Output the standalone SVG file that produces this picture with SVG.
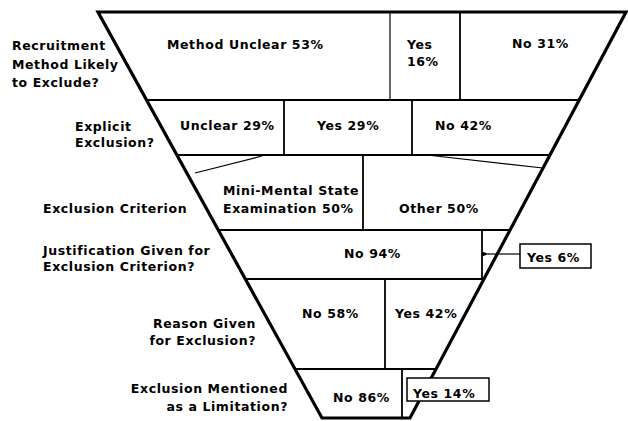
<svg xmlns="http://www.w3.org/2000/svg" width="628" height="421" viewBox="0 0 628 421">
<style>
text{font-family:"DejaVu Sans","Liberation Sans",Arial,sans-serif;font-weight:bold;font-size:12.5px;letter-spacing:0.6px;fill:#000}
.end{text-anchor:end}
.outline{fill:none;stroke:#000;stroke-width:3.2;stroke-linejoin:miter}
.row{stroke:#000;stroke-width:2}
.div{stroke:#000;stroke-width:1.8}
.thin{stroke:#000;stroke-width:1.2}
.box{fill:#fff;stroke:#000;stroke-width:1.5}
</style>
<defs>
<marker id="ah" markerWidth="8" markerHeight="6" refX="1" refY="3" orient="auto" markerUnits="userSpaceOnUse">
<path d="M7,0.5 L0,3 L7,5.5 Z" fill="#000"/>
</marker>
</defs>
<rect width="628" height="421" fill="#fff"/>
<g id="funnel">
<polygon points="98,12 626,12 410,418 322,418" fill="#fff" stroke="none"/>
<line class="row" x1="146.5" y1="100" x2="579.2" y2="100"/>
<line class="row" x1="176.9" y1="155" x2="549.9" y2="155"/>
<line class="row" x1="218.3" y1="230" x2="510" y2="230"/>
<line class="row" x1="245.3" y1="279" x2="484" y2="279"/>
<line class="row" x1="295" y1="369" x2="436.1" y2="369"/>
<line class="thin" x1="390" y1="12" x2="390" y2="100"/>
<line class="div" x1="460" y1="12" x2="460" y2="100"/>
<line class="div" x1="284" y1="100" x2="284" y2="155"/>
<line class="div" x1="412" y1="100" x2="412" y2="155"/>
<line class="div" x1="363" y1="155" x2="363" y2="230"/>
<line class="div" x1="482" y1="230" x2="482" y2="279"/>
<line class="div" x1="385" y1="279" x2="385" y2="369"/>
<line class="div" x1="402" y1="369" x2="402" y2="418"/>
<polygon class="outline" points="98,12 626,12 410,418 322,418"/>
</g>
<g id="connectors">
<line class="thin" x1="195" y1="173" x2="262" y2="156"/>
<line class="thin" x1="427" y1="155" x2="543" y2="168"/>
<line class="thin" x1="520" y1="254" x2="488" y2="254" marker-end="url(#ah)"/>
</g>
<g id="label-recruitment">
<text x="12" y="50">Recruitment</text>
<text x="12" y="69">Method Likely</text>
<text x="12" y="87">to Exclude?</text>
</g>
<g id="label-explicit">
<text x="75" y="131">Explicit</text>
<text x="75" y="147">Exclusion?</text>
</g>
<g id="label-criterion">
<text x="43" y="213">Exclusion Criterion</text>
</g>
<g id="label-justification">
<text x="43" y="255">Justification Given for</text>
<text x="43" y="271">Exclusion Criterion?</text>
</g>
<g id="label-reason">
<text class="end" x="256" y="328">Reason Given</text>
<text class="end" x="256" y="345">for Exclusion?</text>
</g>
<g id="label-limitation">
<text class="end" x="288" y="393">Exclusion Mentioned</text>
<text class="end" x="288" y="411">as a Limitation?</text>
</g>
<g id="cell-method-unclear"><text x="167" y="49">Method Unclear 53%</text></g>
<g id="cell-yes16"><text x="407" y="49">Yes</text><text x="407" y="66">16%</text></g>
<g id="cell-no31"><text x="512" y="48">No 31%</text></g>
<g id="cell-unclear29"><text x="180" y="130">Unclear 29%</text></g>
<g id="cell-yes29"><text x="317" y="130">Yes 29%</text></g>
<g id="cell-no42"><text x="435" y="130">No 42%</text></g>
<g id="cell-mmse"><text x="223" y="195">Mini-Mental State</text><text x="223" y="213">Examination 50%</text></g>
<g id="cell-other50"><text x="399" y="213">Other 50%</text></g>
<g id="cell-no94"><text x="344" y="258">No 94%</text></g>
<g id="cell-yes6"><rect class="box" x="520" y="244" width="71" height="24"/><text x="527" y="262">Yes 6%</text></g>
<g id="cell-no58"><text x="302" y="318">No 58%</text></g>
<g id="cell-yes42"><text x="395" y="318">Yes 42%</text></g>
<g id="cell-no86"><text x="333" y="402">No 86%</text></g>
<g id="cell-yes14"><rect class="box" x="407" y="378" width="82" height="23"/><text x="413" y="398">Yes 14%</text></g>
</svg>
